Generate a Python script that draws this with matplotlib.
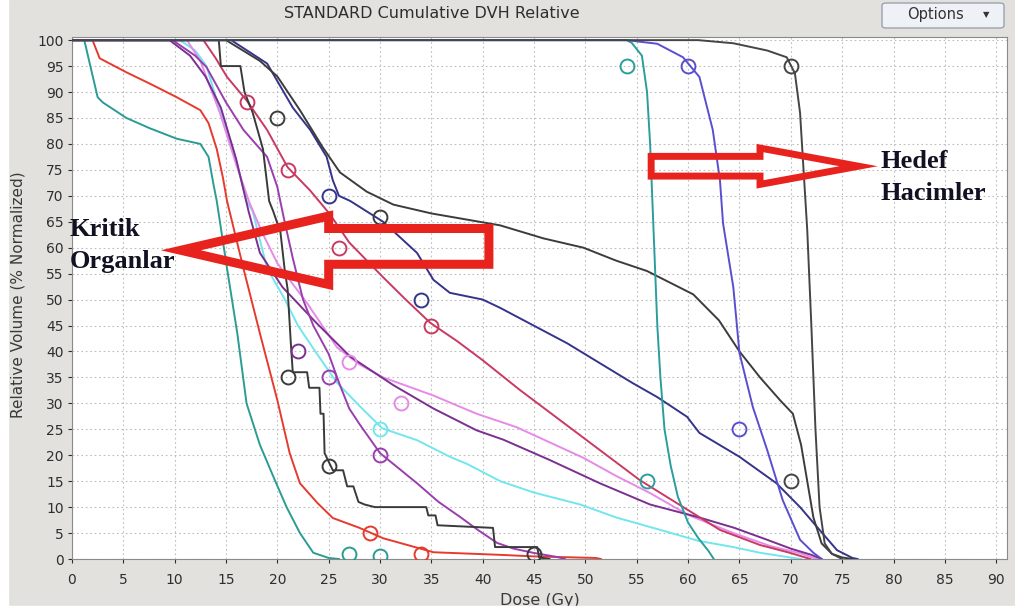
import matplotlib
matplotlib.use("Agg")
import matplotlib.pyplot as plt
from matplotlib.patches import Rectangle, FancyBboxPatch, Polygon

# --- DVH curves (dose in Gy, volume in %) ---
teal_oar_dose = [0, 1.2, 2.5, 3.0, 5.3, 7.6, 10.2, 12.5, 13.3, 13.8, 14.1, 15.1, 16.1, 17.0, 18.3, 19.8, 20.9, 22.2, 23.5, 25.0, 26.0]
teal_oar_vol = [100, 100, 89, 88, 85, 83, 81, 80, 77.5, 72, 69, 56, 43.5, 30, 22, 15, 10, 5, 1.2, 0.2, 0]

red_oar_dose = [0, 2.0, 2.7, 5.3, 7.6, 10.2, 12.5, 13.3, 14.1, 14.7, 15.1, 16.7, 18.3, 20.0, 21.2, 22.2, 23.9, 25.4, 28.0, 30.3, 35.2, 41.7, 45.0, 51.0, 51.5]
red_oar_vol = [100, 100, 96.5, 93.8, 91.6, 89, 86.5, 84, 79, 73.5, 69, 56, 43.5, 30.6, 20.4, 14.6, 10.8, 7.9, 6, 4, 1.3, 0.8, 0.5, 0.2, 0]

cyan_dose = [0, 10.5, 12.0, 13.1, 14.1, 15.7, 17.0, 17.6, 19.0, 20.6, 22.0, 23.8, 25.8, 28.0, 30.2, 33.6, 36.8, 38.5, 41.7, 45.0, 49.5, 53.0, 57.3, 61.0, 64.4, 67.0, 69.6, 71.0]
cyan_vol = [100, 100, 98, 95, 88.4, 79, 69, 67, 56, 50.5, 45, 39.7, 34, 29.5, 25.2, 22.9, 19.7, 18.3, 15, 12.8, 10.5, 8, 5.6, 3.5, 2.3, 1.2, 0.4, 0]

pink_dose = [0, 11.2, 12.5, 14.4, 16.0, 17.3, 18.5, 20.0, 21.5, 22.9, 25.8, 28.0, 30.3, 35.2, 39.4, 43.3, 46.5, 49.8, 53.0, 56.3, 60.0, 64.4, 68.0, 70.9, 72.5]
pink_vol = [100, 100, 96, 86, 76, 68.6, 63, 57, 53, 49.3, 40.8, 37.5, 35, 31.5, 28, 25.4, 22.5, 19.5, 16, 12.7, 8.5, 5, 2.5, 1.1, 0]

purple_long_dose = [0, 9.5, 11.5, 13.0, 14.5, 16.0, 17.2, 18.3, 20.5, 23.8, 27.1, 31.3, 35.2, 39.4, 42.0, 46.5, 51.4, 56.3, 61.1, 64.5, 67.7, 70.0, 72.0, 73.0]
purple_long_vol = [100, 100, 97, 93, 87, 77, 67, 59, 52.4, 45.5, 39, 33.5, 29, 24.8, 23, 19.1, 14.6, 10.5, 8, 6, 3.7, 2, 0.8, 0]

purple_steep_dose = [0, 9.8, 12.0, 13.1, 15.0, 16.7, 19.0, 20.0, 20.6, 21.5, 22.5, 23.5, 25.0, 26.0, 27.0, 28.0, 30.0, 31.8, 33.6, 35.7, 37.8, 39.6, 41.4, 43.0, 44.9, 47.2, 48.0]
purple_steep_vol = [100, 100, 97, 94.8, 88, 82.7, 77.5, 71.7, 66, 58, 50, 45, 39.5, 34, 29, 26, 20.4, 17.5, 14.6, 11, 8.1, 5.5, 3.1, 2, 1.2, 0.4, 0]

crimson_dose = [0, 12.8, 14.0, 15.1, 17.0, 19.0, 21.0, 23.2, 25.1, 27.0, 30.3, 32.5, 34.9, 37.5, 40.0, 43.6, 47.5, 51.4, 55.3, 59.2, 63.1, 67.0, 69.9, 71.9]
crimson_vol = [100, 100, 96.5, 92.9, 88.4, 82.7, 75.5, 71, 66.5, 61, 54.3, 50, 45.5, 42, 38.3, 32.6, 26.8, 21, 15.2, 10.4, 5.6, 2.7, 1.2, 0]

navy_dose = [0, 15.5, 19.0, 21.5, 23.2, 24.8, 25.4, 26.0, 27.1, 30.3, 33.6, 35.2, 36.8, 40.0, 41.7, 48.2, 54.6, 57.0, 59.9, 61.1, 65.0, 68.6, 70.9, 72.8, 74.5, 76.0, 76.5]
navy_vol = [100, 100, 95.5, 87, 82.7, 77.5, 73, 70, 69, 65, 59, 53.8, 51.3, 50, 48.4, 41.6, 33.9, 31.2, 27.4, 24.3, 19.7, 14.6, 10, 5.6, 1.7, 0.2, 0]

gray_dose = [0, 15.0, 18.3, 20.0, 22.2, 24.4, 26.1, 28.7, 31.3, 35.0, 38.5, 41.7, 45.9, 49.8, 53.0, 56.0, 58.5, 60.5, 63.0, 65.0, 67.0, 69.0, 70.2, 71.0, 71.6, 72.2, 73.0, 74.0, 75.0, 76.0]
gray_vol = [100, 100, 96, 93, 86.5, 79.4, 74.5, 70.8, 68.3, 66.6, 65.4, 64.3, 61.8, 60, 57.5, 55.5, 53, 51, 46, 40, 35, 30.5, 28, 22, 15, 8, 3, 1, 0.3, 0]

step_dose = [0, 14.3, 14.5, 16.4, 16.8, 17.6, 18.6, 19.2, 19.6, 20.3, 20.7, 21.0, 21.3, 21.5, 22.9, 23.1, 24.1, 24.2, 24.5, 24.6, 25.4, 26.4, 26.8, 27.4, 27.9, 28.5, 29.5, 34.5, 34.7, 35.4, 35.6, 41.0, 41.2, 45.3, 45.5, 46.5]
step_vol = [100, 100, 95, 95, 90, 86, 79, 69, 67, 63, 56, 52, 42, 36, 36, 33, 33, 28, 28, 20.4, 17.1, 17.1, 14, 14, 11, 10.5, 10, 10, 8.4, 8.4, 6.5, 6, 2.3, 2.3, 0.3, 0]

teal_ptv_dose = [0, 54.0, 54.5, 55.5, 56.0, 56.3, 56.5, 56.7, 57.0, 57.3, 57.7, 58.3, 59.0, 60.0, 61.0, 62.0, 62.5]
teal_ptv_vol = [100, 100, 99.5, 97, 90, 80, 70, 60, 45, 35, 25, 18, 12, 7, 4, 1.5, 0]

violet_ptv_dose = [0, 54.0, 57.0, 59.5, 61.1, 62.4, 63.1, 63.4, 64.4, 65.0, 66.3, 67.7, 69.2, 70.9, 72.2, 73.0]
violet_ptv_vol = [100, 100, 99.3, 96.7, 92.9, 82.7, 73, 64.7, 52.4, 39.7, 29.3, 21, 11.4, 3.7, 1.2, 0]

black_ptv_dose = [0, 61.0, 64.4, 67.7, 69.6, 70.4, 70.9, 71.2, 71.6, 72.0, 72.4, 72.8, 73.3, 74.0, 75.0]
black_ptv_vol = [100, 100, 99.4, 98, 96.7, 93.6, 86, 76.3, 63.4, 45, 25, 10, 3, 1, 0]

# circle markers on the curves
teal_oar_marks = ([27, 30], [1, 0.5])
red_oar_marks = ([29, 34], [5, 1])
cyan_marks = ([30], [25])
pink_marks = ([27, 32], [38, 30])
purple_long_marks = ([22], [40])
purple_steep_marks = ([25, 30], [35, 20])
crimson_marks = ([17, 21, 26, 35], [88, 75, 60, 45])
navy_marks = ([25, 34], [70, 50])
gray_marks = ([20, 30], [85, 66])
step_marks = ([21, 25, 45], [35, 18, 1])
teal_ptv_marks = ([54, 56], [95, 15])
violet_ptv_marks = ([60, 65], [95, 25])
black_ptv_marks = ([70, 70], [95, 15])

curves = [
    (teal_oar_dose, teal_oar_vol, teal_oar_marks, "#2b9c92"),
    (red_oar_dose, red_oar_vol, red_oar_marks, "#e63a2f"),
    (cyan_dose, cyan_vol, cyan_marks, "#72e6ee"),
    (pink_dose, pink_vol, pink_marks, "#e68ae8"),
    (purple_long_dose, purple_long_vol, purple_long_marks, "#7b2f90"),
    (purple_steep_dose, purple_steep_vol, purple_steep_marks, "#9a3eae"),
    (crimson_dose, crimson_vol, crimson_marks, "#c93a62"),
    (navy_dose, navy_vol, navy_marks, "#34348a"),
    (gray_dose, gray_vol, gray_marks, "#3c3c3c"),
    (step_dose, step_vol, step_marks, "#3a3a3a"),
    (teal_ptv_dose, teal_ptv_vol, teal_ptv_marks, "#2a9d9d"),
    (violet_ptv_dose, violet_ptv_vol, violet_ptv_marks, "#5a4ed0"),
    (black_ptv_dose, black_ptv_vol, black_ptv_marks, "#454545"),
]

x_ticks = list(range(0, 91, 5))
y_ticks = list(range(0, 101, 5))

fig = plt.figure(figsize=(10.15, 6.12), dpi=100)
fig.patch.set_facecolor("#e2e1de")
ax = fig.add_axes([0.0709, 0.0866, 0.9212, 0.8529])
ax.set_facecolor("white")

for d, v, m, c in curves:
    ax.plot(d, v, color=c, lw=1.4, zorder=3)
    ax.plot(m[0], m[1], "o", mfc="none", mec=c, ms=10, mew=1.4, zorder=4)

ax.set_xlim(0, 91.05)
ax.set_ylim(0, 100.6)
ax.set_xticks(x_ticks)
ax.set_yticks(y_ticks)
ax.tick_params(labelsize=10, colors="#2e2e2e", length=3, pad=3)
ax.tick_params(axis="x", pad=7)
ax.grid(True, linestyle=(0, (1.5, 2.5)), color="#bdbdbd", lw=0.8)
for s in ax.spines.values():
    s.set_color("#8a8a8a")

# red outline arrows
left_arrow = [(10.6, 59.5), (25.0, 66.1), (25.0, 63.7), (40.6, 63.7),
              (40.6, 56.8), (25.0, 56.8), (25.0, 52.9)]
ax.add_patch(Polygon(left_arrow, closed=True, fill=False, ec="#e8231e", lw=6.5,
                     joinstyle="miter", zorder=6))
right_arrow = [(56.4, 77.6), (67.0, 77.6), (67.0, 79.2), (76.6, 75.7),
               (67.0, 72.2), (67.0, 73.8), (56.4, 73.8)]
ax.add_patch(Polygon(right_arrow, closed=True, fill=False, ec="#e8231e", lw=5,
                     joinstyle="miter", zorder=6))

serif = dict(family="Liberation Serif", weight="bold", size=19, color="#111122",
             clip_on=False, zorder=7)
ax.text(-0.2, 63.6, "Kritik", ha="left", va="center", **serif)
ax.text(-0.2, 57.4, "Organlar", ha="left", va="center", **serif)
ax.text(78.7, 76.7, "Hedef", ha="left", va="center", **serif)
ax.text(78.7, 70.5, "Hacimler", ha="left", va="center", **serif)

fig.text(432 / 1015, 1 - 14 / 612, "STANDARD Cumulative DVH Relative",
         ha="center", va="center", fontsize=11.5, color="#2e2e2e")
fig.text(18 / 1015, 1 - 295 / 612, "Relative Volume (% Normalized)",
         rotation=90, ha="center", va="center", fontsize=11, color="#3a3a3a")
fig.text(540 / 1015, 1 - 601 / 612, "Dose (Gy)", ha="center", va="center",
         fontsize=11.5, color="#3a3a3a")

# Options button
fig.add_artist(FancyBboxPatch((882 / 1015, 1 - 28 / 612), 122 / 1015, 25 / 612,
                              boxstyle="round,pad=0,rounding_size=0.004",
                              transform=fig.transFigure, fc="#eef1f6", ec="#9aa3b2", lw=1))
fig.text(935 / 1015, 1 - 15 / 612, "Options", ha="center", va="center",
         fontsize=10.5, color="#333333")
fig.text(986 / 1015, 1 - 15 / 612, "\u25bc", ha="center", va="center",
         fontsize=6, color="#333333")

# white screenshot border
fig.add_artist(Rectangle((0, 0), 8 / 1015, 1, transform=fig.transFigure,
                         color="white", zorder=10))
fig.add_artist(Rectangle((0, 0), 1, 6 / 612, transform=fig.transFigure,
                         color="white", zorder=10))

fig.savefig("out.png", dpi=100)
